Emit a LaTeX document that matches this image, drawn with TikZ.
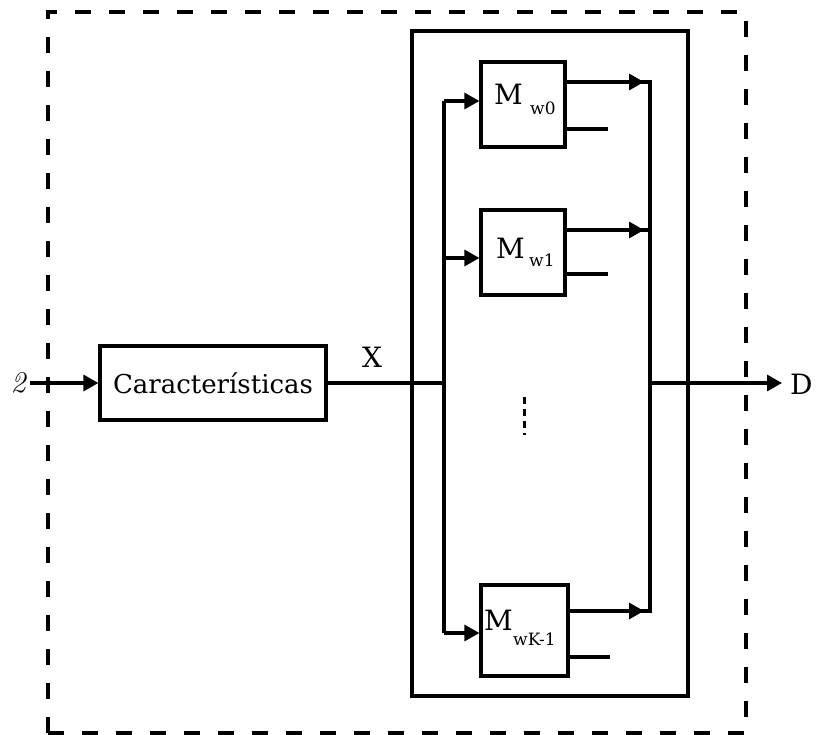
\documentclass[tikz,border=0pt]{standalone}
\usepackage{fontspec}
\newfontfamily\dvs{DejaVu Serif}
\usetikzlibrary{arrows.meta}
\tikzset{
  lw/.style={line width=3.2pt},
  blk/.style={draw, lw, rectangle, inner sep=0pt},
  arr/.style={lw, -{Triangle[length=15pt,width=16pt]}},
  big/.style={font=\dvs\fontsize{26}{26}\selectfont},
  lab/.style={font=\dvs\fontsize{28}{28}\selectfont},
  mm/.style={font=\dvs\fontsize{28}{28}\selectfont},
  sub/.style={font=\dvs\fontsize{17}{17}\selectfont},
}
\begin{document}
\begin{tikzpicture}[x=1pt,y=-1pt]
\useasboundingbox (0,0) rectangle (817,735);
% outer dashed frame
\node[draw, line width=3.2pt, dash pattern=on 16pt off 18pt, rectangle, minimum width=698pt, minimum height=721pt, inner sep=0pt] (frame) at (397,372.5) {};
% inner solid frame
\node[blk, minimum width=276pt, minimum height=665pt] (inner) at (550,363.5) {};
% features block
\node[blk, minimum width=226pt, minimum height=74pt, big] (car) at (213,383) {Características};
% M blocks
\node[blk, minimum width=84pt, minimum height=85pt] (m0) at (523,104.5) {};
\node[blk, minimum width=84pt, minimum height=85pt] (m1) at (523,252.5) {};
\node[blk, minimum width=87pt, minimum height=91pt] (mk) at (524.5,630.5) {};
% M labels
\node[mm, anchor=base west, inner sep=0pt] (lm0) at (494,105) {M};
\node[sub, anchor=base west, inner sep=0pt] (ls0) at (530,115) {w0};
\node[mm, anchor=base west, inner sep=0pt] (lm1) at (496,259) {M};
\node[sub, anchor=base west, inner sep=0pt] (ls1) at (529,267) {w1};
\node[mm, anchor=base west, inner sep=0pt] (lmk) at (484,630) {M};
\node[sub, anchor=base west, inner sep=0pt] (lsk) at (513,645) {wK-1};
% text labels
\node[font=\fontsize{30}{30}\selectfont\itshape, inner sep=0pt] (two) at (18,383) {2};
\node[lab, inner sep=0pt] (xl) at (372,357) {X};
\node[lab, inner sep=0pt, anchor=west] (dl) at (790,384) {D};
% coordinates
\coordinate (in) at (30,383);
\coordinate (jx) at (444,383);
\coordinate (bt) at (444,101);
\coordinate (b1) at (444,258);
\coordinate (bb) at (444,633);
\coordinate (r0) at (650,82);
\coordinate (r1) at (650,230);
\coordinate (rk) at (650,611);
\coordinate (ro) at (650,383);
\coordinate (out) at (782,383);
\coordinate (s0) at (608,129);
\coordinate (s1) at (608,274);
\coordinate (sk) at (610,657);
% input
\draw[arr] (in) -- (car.west);
\draw[lw] (car.east) -- (jx);
% left bus
\draw[lw] (bt) -- (bb);
\draw[arr] (bt) -- (bt -| m0.west);
\draw[arr] (b1) -- (b1 -| m1.west);
\draw[arr] (bb) -- (bb -| mk.west);
% outputs
\draw[lw] (r0 -| m0.east) -- (r0) -- (rk) -- (rk -| mk.east);
\draw[lw] (r1 -| m1.east) -- (r1);
\draw[arr] (r0 -| m0.east) -- ([xshift=-6pt]r0);
\draw[arr] (r1 -| m1.east) -- ([xshift=-6pt]r1);
\draw[arr] (rk -| mk.east) -- ([xshift=-6pt]rk);
% stubs
\draw[lw] (s0 -| m0.east) -- (s0);
\draw[lw] (s1 -| m1.east) -- (s1);
\draw[lw] (sk -| mk.east) -- (sk);
% output D
\draw[arr] (ro) -- (out);
% ellipsis
\coordinate (e1) at (524,397);
\coordinate (e2) at (524,435);
\draw[line width=3pt, dash pattern=on 7pt off 5pt] (e1) -- (e2);
\end{tikzpicture}
\end{document}
